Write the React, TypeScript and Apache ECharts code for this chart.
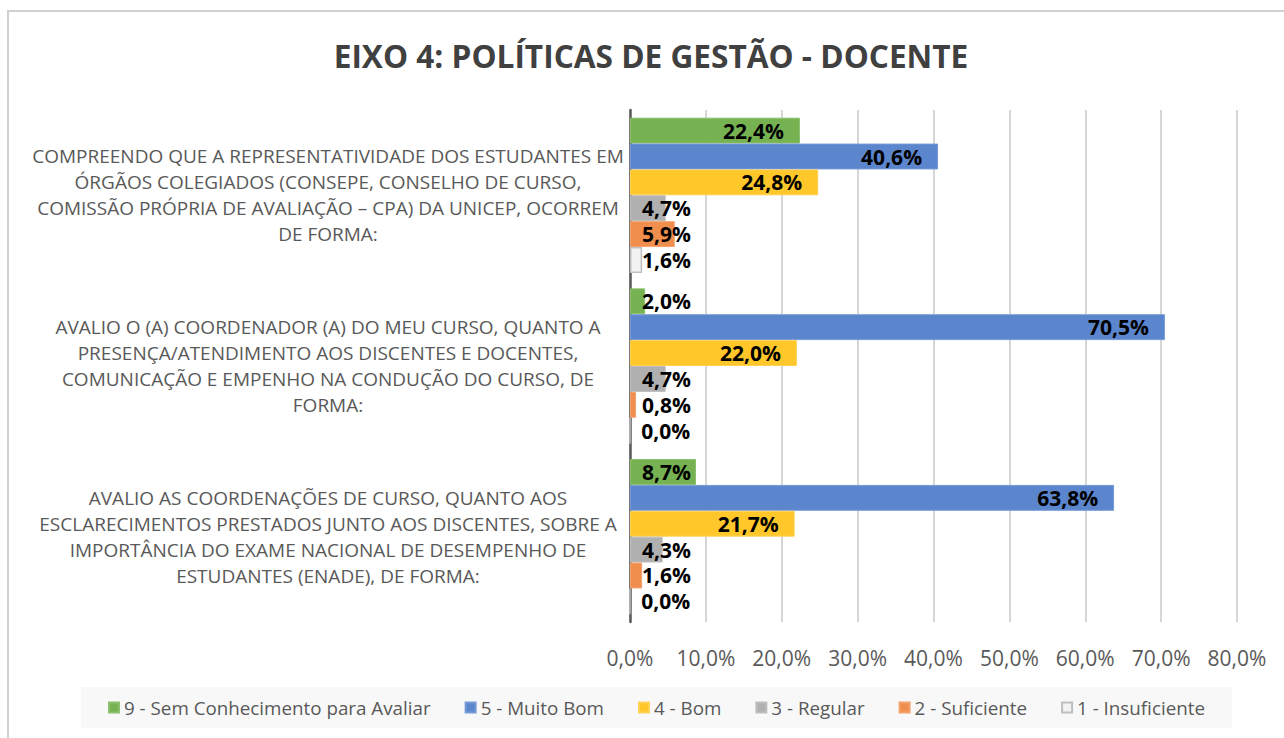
import React, { useEffect, useRef } from 'react';
import * as echarts from 'echarts';

const categories = [
  'COMPREENDO QUE A REPRESENTATIVIDADE DOS ESTUDANTES EM\nÓRGÃOS COLEGIADOS (CONSEPE, CONSELHO DE CURSO,\nCOMISSÃO PRÓPRIA DE AVALIAÇÃO – CPA) DA UNICEP, OCORREM\nDE FORMA:',
  'AVALIO O (A) COORDENADOR (A) DO MEU CURSO, QUANTO A\nPRESENÇA/ATENDIMENTO AOS DISCENTES E DOCENTES,\nCOMUNICAÇÃO E EMPENHO NA CONDUÇÃO DO CURSO, DE\nFORMA:',
  'AVALIO AS COORDENAÇÕES DE CURSO, QUANTO AOS\nESCLARECIMENTOS PRESTADOS JUNTO AOS DISCENTES, SOBRE A\nIMPORTÂNCIA DO EXAME NACIONAL DE DESEMPENHO DE\nESTUDANTES (ENADE), DE FORMA:',
];

const seriesNames = [
  '9 - Sem Conhecimento para Avaliar',
  '5 - Muito Bom',
  '4 - Bom',
  '3 - Regular',
  '2 - Suficiente',
  '1 - Insuficiente',
];

const semConhecimento = [22.4, 2.0, 8.7];
const muitoBom = [40.6, 70.5, 63.8];
const bom = [24.8, 22.0, 21.7];
const regular = [4.7, 4.7, 4.3];
const suficiente = [5.9, 0.8, 1.6];
const insuficiente = [1.6, 0.0, 0.0];

const xMin = 0;
const xMax = 80;
const xInterval = 10;

const seriesValues = [semConhecimento, muitoBom, bom, regular, suficiente, insuficiente];
const seriesColors = ['#76b152', '#5b85cc', '#ffc729', '#b0b0b0', '#ef8e4d', '#f2f2f2'];
const seriesBorders = ['#8cc06c', '#7599d6', '#ffd257', '#bdbdbd', '#f3a26c', '#bfbfbf'];

const FONT = 'Open Sans';
const fmt = (v: number) => v.toFixed(1).replace('.', ',') + '%';

export default function App() {
  const ref = useRef<HTMLDivElement>(null);

  useEffect(() => {
    if (!ref.current) return;
    const chart = echarts.init(ref.current, undefined, { renderer: 'svg' });

    const series = seriesNames.map((name, i) => ({
      name,
      type: 'bar',
      barGap: '0%',
      barCategoryGap: '9%',
      itemStyle: {
        color: seriesColors[i],
        borderColor: seriesBorders[i],
        borderWidth: i === 5 ? 1.5 : 1,
      },
      label: {
        show: true,
        formatter: (p: any) => fmt(p.value),
        color: '#000',
        fontFamily: FONT,
        fontWeight: 'bold',
        fontSize: 21,
      },
      data: seriesValues[i].map((v) => ({
        value: v,
        label: v < 10
          ? { position: 'insideLeft', distance: 12 }
          : { position: 'insideRight', distance: 16 },
      })),
    }));

    chart.setOption({
      animation: false,
      backgroundColor: '#ffffff',
      title: {
        text: 'EIXO 4: POLÍTICAS DE GESTÃO - DOCENTE',
        left: 646,
        textAlign: 'center',
        top: 29,
        textStyle: {
          fontFamily: FONT,
          fontWeight: 'bold',
          fontSize: 31.6,
          lineHeight: 42,
          color: '#404040',
        },
      },
      graphic: [
        {
          type: 'rect',
          shape: { x: 8, y: 11, width: 1400, height: 900 },
          style: { fill: 'none', stroke: '#d0d0d0', lineWidth: 2 },
          silent: true,
        },
      ],
      legend: {
        data: seriesNames,
        left: 81,
        top: 687,
        padding: [10, 27],
        backgroundColor: '#f8f8f8',
        itemWidth: 10,
        itemHeight: 10,
        itemGap: 34,
        icon: 'rect',
        textStyle: {
          fontFamily: FONT,
          fontSize: 18.8,
          lineHeight: 21,
          color: '#595959',
        },
      },
      grid: { left: 630, right: 47, top: 110, bottom: 116, containLabel: false },
      xAxis: {
        type: 'value',
        min: xMin,
        max: xMax,
        interval: xInterval,
        axisLine: { show: false },
        axisTick: { show: false },
        splitLine: { show: true, lineStyle: { color: '#cccccc', width: 1.6 } },
        axisLabel: {
          formatter: (v: number) => fmt(v),
          color: '#595959',
          fontFamily: FONT,
          fontSize: 21,
          margin: 25,
        },
      },
      yAxis: {
        type: 'category',
        inverse: true,
        data: categories,
        axisLine: { show: true, lineStyle: { color: '#595959', width: 2.5 } },
        axisTick: { show: false },
        axisLabel: {
          align: 'center',
          margin: 302,
          color: '#595959',
          fontFamily: FONT,
          fontSize: 19,
          lineHeight: 26,
        },
      },
      series,
    });

    return () => chart.dispose();
  }, []);

  return (
    <div
      ref={ref}
      style={{ position: 'fixed', left: 0, top: 0, width: 1284, height: 738, background: '#fff' }}
    />
  );
}
